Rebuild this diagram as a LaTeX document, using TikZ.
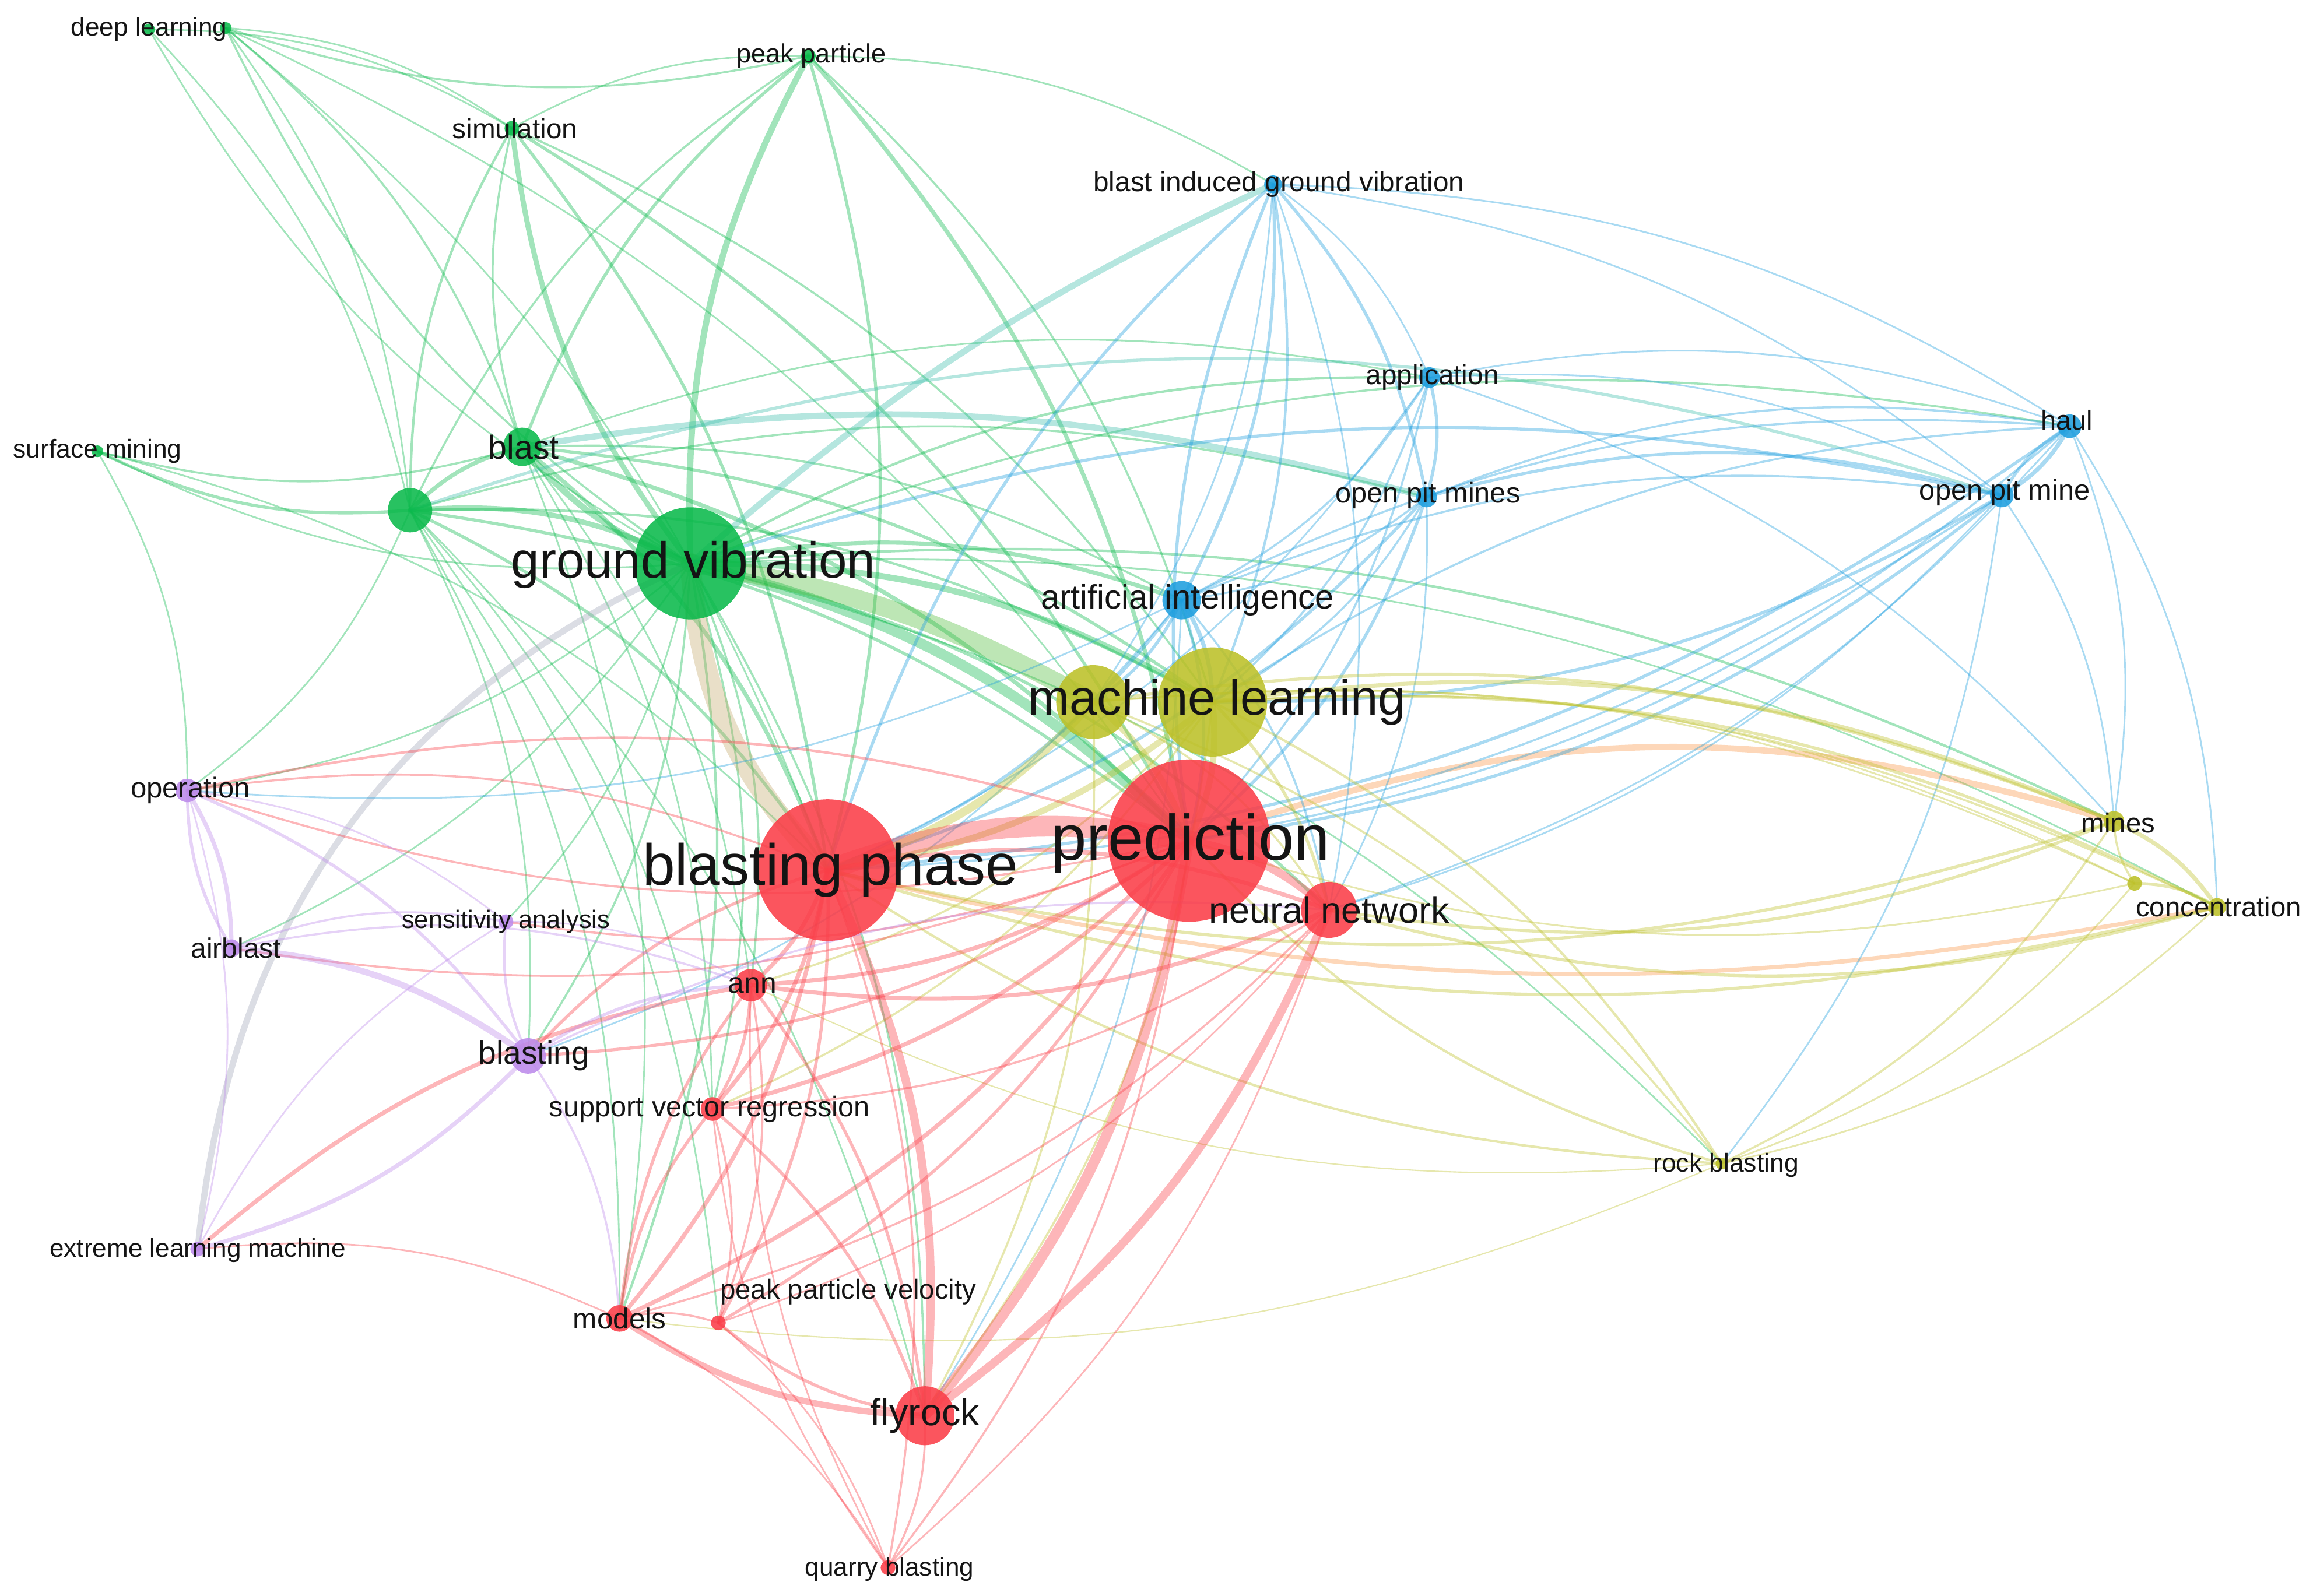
\documentclass[tikz,border=0pt]{standalone}
\usepackage{fontspec}
\setmainfont{Liberation Sans}
\usetikzlibrary{positioning}

\definecolor{vgreen}{RGB}{10,185,75}
\definecolor{vred}{RGB}{250,62,72}
\definecolor{vyel}{RGB}{188,192,40}
\definecolor{vblue}{RGB}{30,158,222}
\definecolor{vpurp}{RGB}{188,138,234}
\definecolor{vteal}{RGB}{60,190,170}
\definecolor{vtan}{RGB}{196,170,110}
\definecolor{vorange}{RGB}{250,150,70}
\definecolor{vgray}{RGB}{160,165,185}

\newcommand{\kwfont}[1]{\fontsize{#1}{#1}\selectfont}

\pgfdeclarelayer{edges}
\pgfsetlayers{edges,main}

\tikzset{
  kw/.style={circle, inner sep=0pt, draw=none, fill=#1, fill opacity=0.88},
  lab/.style={inner sep=0pt, text=black!92},
  lnk/.style={draw opacity=0.38, line cap=round}
}

\begin{document}
\begin{tikzpicture}[x=0.025cm, y=-0.025cm]
\useasboundingbox (0,0) rectangle (1568,1082);

% green cluster
\node[kw=vgreen, minimum size=1.9cm] (gv) at (468,382) {};
\node[kw=vgreen, minimum size=0.75cm] (gx) at (278,346) {};
\node[kw=vgreen, minimum size=0.65cm] (blast) at (354,303) {};
\node[kw=vgreen, minimum size=0.25cm] (peakpart) at (548,38) {};
\node[kw=vgreen, minimum size=0.25cm] (simul) at (347,87) {};
\node[kw=vgreen, minimum size=0.2cm] (deepl) at (101,20) {};
\node[kw=vgreen, minimum size=0.2cm] (dlx) at (153,19) {};
\node[kw=vgreen, minimum size=0.2cm] (surfmin) at (66,306) {};

% blue cluster
\node[kw=vblue, minimum size=0.3cm] (bigv) at (863,125) {};
\node[kw=vblue, minimum size=0.35cm] (applic) at (969,256) {};
\node[kw=vblue, minimum size=0.4cm] (haul) at (1403,289) {};
\node[kw=vblue, minimum size=0.4cm] (openpitmine) at (1357,336) {};
\node[kw=vblue, minimum size=0.35cm] (openpitmines) at (967,337) {};
\node[kw=vblue, minimum size=0.65cm] (ai) at (801,407) {};

% yellow cluster
\node[kw=vyel, minimum size=1.25cm] (mlx) at (741,476) {};
\node[kw=vyel, minimum size=1.85cm] (ml) at (822,476) {};
\node[kw=vyel, minimum size=0.35cm] (mines) at (1433,557) {};
\node[kw=vyel, minimum size=0.25cm] (yx) at (1447,599) {};
\node[kw=vyel, minimum size=0.3cm] (concentr) at (1503,615) {};
\node[kw=vyel, minimum size=0.2cm] (rockbl) at (1167,789) {};

% red cluster
\node[kw=vred, minimum size=2.75cm] (pred) at (806,570) {};
\node[kw=vred, minimum size=2.4cm] (bphase) at (561,590) {};
\node[kw=vred, minimum size=0.95cm] (nn) at (901,617) {};
\node[kw=vred, minimum size=0.55cm] (ann) at (509,668) {};
\node[kw=vred, minimum size=0.4cm] (svr) at (483,752) {};
\node[kw=vred, minimum size=0.45cm] (models) at (420,894) {};
\node[kw=vred, minimum size=0.25cm] (ppv) at (487,897) {};
\node[kw=vred, minimum size=1.0cm] (flyrock) at (627,960) {};
\node[kw=vred, minimum size=0.25cm] (quarry) at (602,1063) {};

% purple cluster
\node[kw=vpurp, minimum size=0.4cm] (operation) at (127,536) {};
\node[kw=vpurp, minimum size=0.3cm] (airblast) at (157,643) {};
\node[kw=vpurp, minimum size=0.25cm] (sens) at (343,625) {};
\node[kw=vpurp, minimum size=0.6cm] (blasting) at (358,716) {};
\node[kw=vpurp, minimum size=0.25cm] (elm) at (134,847) {};

\begin{pgfonlayer}{edges}
% green links
\foreach \a/\b/\w in {gv/blast/3, gx/gv/2.5, gv/peakpart/3, gv/simul/2.5, gv/deepl/0.8, gv/dlx/1,
  gv/surfmin/0.8, gv/nn/1.5, gv/ai/2, gv/applic/1.2, gv/haul/1, gv/ann/1, gv/svr/1, gv/models/1.2,
  gv/flyrock/1, gv/blasting/1, gv/sens/0.8, gv/operation/0.8, gv/airblast/0.8, gv/mines/1.2,
  gv/concentr/0.8, gv/rockbl/0.8, gv/ml/3,
  gx/surfmin/1.5, deepl/gx/0.8, dlx/gx/0.8, gx/blast/2, gx/simul/1.2, gx/peakpart/1, gx/pred/1.5,
  gx/bphase/1.5, gx/models/0.8, gx/ppv/0.8, gx/svr/0.8, gx/blasting/0.8, gx/flyrock/0.8,
  gx/operation/0.8, gx/ml/1.2, gx/openpitmines/1,
  blast/surfmin/1, dlx/blast/1, blast/simul/1, blast/peakpart/1.5, blast/ml/1.5, blast/ai/1,
  blast/pred/2, blast/bphase/2, blast/models/0.8, blast/svr/0.8, blast/ann/0.8, blast/applic/0.8,
  simul/peakpart/0.8, peakpart/dlx/1, peakpart/pred/2, peakpart/bphase/1.5, peakpart/ml/1,
  peakpart/bigv/0.8, deepl/simul/0.8, simul/pred/1.5, simul/bphase/1.5, simul/ml/1, dlx/simul/0.8,
  dlx/pred/0.8, dlx/bphase/0.8, surfmin/operation/0.8, surfmin/bphase/0.8, gv/pred/5}
  \draw[lnk, vgreen, line width=\w pt] (\a.center) to[bend left=15] (\b.center);

% blended heavy links
\draw[lnk, vtan, line width=10pt] (bphase.center) to[bend left=20] (gv.center);
\draw[lnk, vgreen!60!vyel, line width=9pt] (gv.center) to[bend left=10] (mlx.center);
\draw[lnk, vgray, line width=3pt] (elm.center) to[bend left=30] (gv.center);
\draw[lnk, vteal, line width=3pt] (blast.center) to[bend left=12] (openpitmines.center);
\draw[lnk, vteal, line width=3pt] (gv.center) to[bend left=8] (bigv.center);
\draw[lnk, vteal, line width=1.5pt] (gx.center) to[bend left=18] (openpitmine.center);
\draw[lnk, vorange, line width=3pt] (pred.center) to[bend left=18] (mines.center);
\draw[lnk, vorange, line width=2pt] (bphase.center) to[bend right=12] (concentr.center);

% blue links
\foreach \a/\b/\w in {bigv/applic/0.8, bigv/openpitmines/1.5, bigv/ai/1.5, pred/bigv/1.5,
  bigv/ml/1.2, bigv/haul/0.8, bigv/openpitmine/0.8, bphase/bigv/1.5, bigv/mlx/0.8, bigv/nn/0.8,
  applic/haul/0.8, applic/openpitmine/0.8, applic/openpitmines/1.5, applic/ai/1, applic/ml/1,
  applic/pred/1, applic/bphase/0.8, applic/mines/0.8,
  haul/openpitmine/2, openpitmine/haul/1.5, openpitmines/haul/1, ai/haul/1, ml/haul/1, haul/pred/1,
  haul/bphase/1.5, haul/concentr/0.8, haul/mines/0.8, haul/nn/0.8,
  openpitmines/openpitmine/1.5, ai/openpitmine/1, openpitmine/ml/1.5, openpitmine/pred/1.5,
  openpitmine/mines/0.8, openpitmine/bphase/1, openpitmine/nn/0.8, gv/openpitmine/1.5,
  openpitmine/rockbl/0.8, openpitmines/ai/1, openpitmines/ml/1, openpitmines/pred/1.5,
  openpitmines/bphase/1.5, openpitmines/nn/0.8, ai/ml/2, ai/pred/1.5, ai/bphase/1.5, ai/nn/1,
  ai/flyrock/0.8, ai/mlx/1.5, ai/operation/0.8, ai/blasting/0.8}
  \draw[lnk, vblue, line width=\w pt] (\a.center) to[bend left=15] (\b.center);

% yellow links
\foreach \a/\b/\w in {ml/pred/3, mlx/pred/3, ml/bphase/3, mlx/bphase/4, ml/mines/2,
  ml/concentr/1.5, ml/rockbl/1.2, ml/nn/1.5, ml/flyrock/1, ml/ann/1, ml/svr/1, mlx/mines/1.5,
  mlx/concentr/1, mlx/rockbl/1, mlx/nn/1, mlx/flyrock/1, ml/yx/0.8, mlx/yx/0.8,
  mines/concentr/2, yx/mines/1, yx/concentr/1.5, mines/rockbl/1, concentr/rockbl/0.8,
  yx/rockbl/0.8, concentr/bphase/1.5, mines/bphase/1.5, rockbl/pred/1.2, rockbl/bphase/1.2,
  rockbl/models/0.6, rockbl/ann/0.6, concentr/nn/1.5, yx/pred/0.8, mines/nn/1.5}
  \draw[lnk, vyel, line width=\w pt] (\a.center) to[bend left=15] (\b.center);

% red links
\foreach \a/\b/\w in {bphase/pred/10, pred/nn/4, pred/flyrock/5, pred/ann/2, pred/svr/2,
  pred/models/2, pred/ppv/1.5, pred/quarry/1, pred/operation/1, pred/airblast/1, pred/blasting/1.5,
  pred/sens/1, bphase/nn/2, bphase/flyrock/4, bphase/ann/2, bphase/svr/2, bphase/models/2,
  bphase/ppv/1.5, bphase/quarry/1, operation/bphase/1, blasting/bphase/1.5,
  nn/flyrock/4, nn/ann/2, nn/models/1, nn/svr/1, nn/quarry/0.8, nn/ppv/0.8,
  flyrock/models/3, flyrock/ppv/1.5, svr/flyrock/1.5, ann/flyrock/1.5, flyrock/quarry/1,
  models/svr/1.5, models/ann/1.5, models/ppv/1, elm/models/0.8,
  quarry/svr/0.8, quarry/ann/0.8, models/quarry/0.8, ppv/quarry/0.8,
  ann/svr/1.5, ann/ppv/1, svr/ppv/1, elm/ann/2, operation/pred/1.2}
  \draw[lnk, vred, line width=\w pt] (\a.center) to[bend left=15] (\b.center);

% purple links
\foreach \a/\b/\w in {operation/airblast/2, operation/blasting/1.5, operation/elm/0.8,
  operation/sens/0.8, airblast/blasting/3, airblast/sens/1, airblast/ann/1, blasting/elm/2,
  blasting/sens/1.2, blasting/ann/1.5, blasting/models/1, sens/ann/0.8, elm/sens/0.8,
  blasting/nn/1, airblast/operation/1.5}
  \draw[lnk, vpurp, line width=\w pt] (\a.center) to[bend left=15] (\b.center);
\end{pgfonlayer}

% labels
\node[lab, font=\kwfont{24.5}] (gv-t) at (470,383) {ground vibration};
\node[lab, font=\kwfont{16.1}] (blast-t) at (355,303) {blast};
\node[lab, font=\kwfont{12.7}] (peakpart-t) at (550,38) {peak particle};
\node[lab, font=\kwfont{13.4}] (simul-t) at (349,87) {simulation};
\node[lab, font=\kwfont{12.4}] (deepl-t) at (101,20) {deep learning};
\node[lab, font=\kwfont{12.5}] (surfmin-t) at (66,306) {surface mining};
\node[lab, font=\kwfont{13.4}] (bigv-t) at (867,125) {blast induced ground vibration};
\node[lab, font=\kwfont{13.4}] (applic-t) at (971,256) {application};
\node[lab, font=\kwfont{13.2}] (haul-t) at (1401,285) {haul};
\node[lab, font=\kwfont{13.7}] (openpitmine-t) at (1359,334) {open pit mine};
\node[lab, font=\kwfont{13.7}] (openpitmines-t) at (968,336) {open pit mines};
\node[lab, font=\kwfont{16.3}] (ai-t) at (805,407) {artificial intelligence};
\node[lab, font=\kwfont{23.9}] (ml-t) at (825,476) {machine learning};
\node[lab, font=\kwfont{13.3}] (mines-t) at (1436,558) {mines};
\node[lab, font=\kwfont{13.3}] (concentr-t) at (1504,615) {concentration};
\node[lab, font=\kwfont{12.5}] (rockbl-t) at (1170,790) {rock blasting};
\node[lab, font=\kwfont{31}] (pred-t) at (807,572) {prediction};
\node[lab, font=\kwfont{28.1}] (bphase-t) at (563,590) {blasting phase};
\node[lab, font=\kwfont{17.7}] (nn-t) at (901,617) {neural network};
\node[lab, font=\kwfont{14}] (ann-t) at (510,668) {ann};
\node[lab, font=\kwfont{13.7}] (svr-t) at (481,752) {support vector regression};
\node[lab, font=\kwfont{13.9}] (models-t) at (420,894) {models};
\node[lab, font=\kwfont{13.3}] (ppv-t) at (575,876) {peak particle velocity};
\node[lab, font=\kwfont{18.2}] (flyrock-t) at (627,960) {flyrock};
\node[lab, font=\kwfont{12.4}] (quarry-t) at (603,1064) {quarry blasting};
\node[lab, font=\kwfont{13.8}] (operation-t) at (129,536) {operation};
\node[lab, font=\kwfont{13.5}] (airblast-t) at (160,643) {airblast};
\node[lab, font=\kwfont{12.2}] (sens-t) at (343,625) {sensitivity analysis};
\node[lab, font=\kwfont{15.5}] (blasting-t) at (362,716) {blasting};
\node[lab, font=\kwfont{12.4}] (elm-t) at (134,848) {extreme learning machine};

\end{tikzpicture}
\end{document}
